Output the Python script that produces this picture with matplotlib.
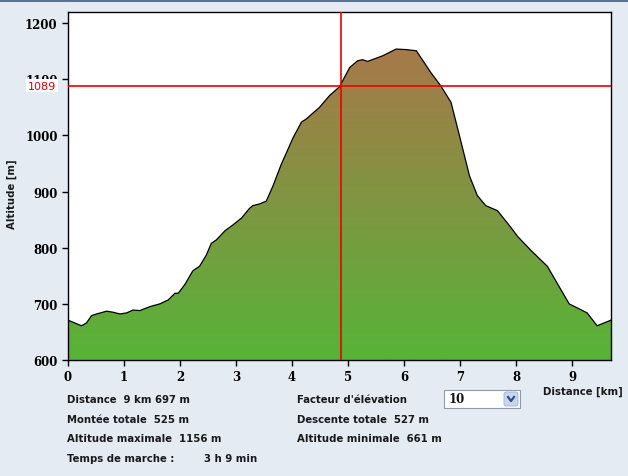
import numpy as np
import matplotlib
matplotlib.use('Agg')
import matplotlib.pyplot as plt
from matplotlib.patches import Rectangle, FancyBboxPatch
from matplotlib.lines import Line2D

# profile (km, m)
dist_km = [0.00, 0.12, 0.24, 0.33, 0.42, 0.51, 0.69, 0.81, 0.93, 1.05, 1.16, 1.28,
           1.46, 1.64, 1.79, 1.91, 1.97, 2.09, 2.23, 2.35, 2.47, 2.56, 2.65, 2.80,
           2.95, 3.10, 3.24, 3.30, 3.42, 3.54, 3.66, 3.81, 4.02, 4.17, 4.25, 4.49,
           4.67, 4.85, 5.03, 5.17, 5.26, 5.35, 5.62, 5.86, 6.04, 6.22, 6.48, 6.66,
           6.84, 6.99, 7.17, 7.31, 7.46, 7.67, 7.91, 8.03, 8.27, 8.56, 8.95, 9.27,
           9.45, 9.697]
alt_m = [671, 666, 661, 666, 679, 682, 687, 685, 682, 684, 689, 688,
         695, 700, 707, 719, 719, 735, 759, 767, 787, 808, 814, 830,
         841, 853, 870, 875, 878, 883, 910, 949, 996, 1024, 1029, 1050,
         1071, 1087, 1121, 1133, 1135, 1132, 1142, 1154, 1153, 1151, 1112, 1088,
         1059, 1000, 928, 893, 875, 866, 836, 820, 795, 767, 700, 684,
         661, 671]

x_ticks = [0, 1, 2, 3, 4, 5, 6, 7, 8, 9]
y_ticks = [600, 700, 800, 900, 1000, 1100, 1200]
cursor_km = 4.87
cursor_alt = 1089

left_info = ["Distance  9 km 697 m", "Montée totale  525 m",
             "Altitude maximale  1156 m", "Temps de marche :"]
right_info = ["Facteur d'élévation", "Descente totale  527 m",
              "Altitude minimale  661 m"]
walk_time = "3 h 9 min"
factor = "10"

W, H = 628, 477
bg = '#e4ebf3'
txt = '#1a1a1a'


def fx(px):
    return px / W


def fy(py):
    return 1 - py / H


fig = plt.figure(figsize=(W / 100, H / 100), dpi=100, facecolor=bg)
ax = fig.add_axes([fx(68), fy(361), fx(611) - fx(68), fy(13) - fy(361)])
ax.set_facecolor('white')

# gradient fill under profile
grad = np.linspace(0, 1, 256).reshape(-1, 1)
top_c = np.array([168, 120, 74]) / 255
bot_c = np.array([86, 180, 56]) / 255
img = bot_c + (top_c - bot_c) * grad[..., None]
img = img.reshape(256, 1, 3)
poly = ax.fill_between(dist_km, alt_m, 600, color='none', lw=0)
im = ax.imshow(img, extent=[0, 9.697, 600, 1160], origin='lower', aspect='auto', zorder=1)
path = poly.get_paths()[0]
im.set_clip_path(path, transform=ax.transData)
ax.plot(dist_km, alt_m, color='black', lw=0.9, zorder=2)

# cursor
ax.axvline(cursor_km, color='#ee0000', lw=1.2, zorder=3)
ax.axhline(cursor_alt, color='#ee0000', lw=1.2, zorder=3)

ax.set_xlim(0, 9.697)
ax.set_ylim(600, 1220)
ax.set_xticks(x_ticks)
ax.set_yticks(y_ticks)
for sp in ax.spines.values():
    sp.set_linewidth(1.0)
ax.tick_params(direction='out', length=4.5, width=1.0, pad=3)
for lab in ax.get_xticklabels() + ax.get_yticklabels():
    lab.set_fontfamily('DejaVu Serif')
    lab.set_fontweight('bold')
    lab.set_fontsize(8.5)

ax.text(-0.022, cursor_alt, str(cursor_alt), transform=ax.get_yaxis_transform(),
        ha='right', va='center', color='#e00000', fontsize=8, family='DejaVu Sans',
        bbox=dict(facecolor='white', edgecolor='none', pad=1.2), zorder=5, clip_on=False)

fig.text(fx(12), fy(194), "Altitude [m]", rotation=90, ha='center', va='center',
         fontsize=7.3, fontweight='bold', color=txt)
fig.text(fx(623), fy(392), "Distance [km]", ha='right', va='center',
         fontsize=7.3, fontweight='bold', color=txt)

# top band
fig.patches.append(Rectangle((0, fy(3)), 1, fy(0) - fy(3), transform=fig.transFigure,
                             facecolor='#5d7392', edgecolor='none'))

# info lines
rows = [400, 420, 439, 459]
for t, py in zip(left_info, rows):
    fig.text(fx(67), fy(py), t, ha='left', va='center', fontsize=7.3,
             fontweight='bold', color=txt)
fig.text(fx(204), fy(459), walk_time, ha='left', va='center', fontsize=7.3,
         fontweight='bold', color=txt)
for t, py in zip(right_info, rows):
    fig.text(fx(297), fy(py), t, ha='left', va='center', fontsize=7.3,
             fontweight='bold', color=txt)

# dropdown
fig.patches.append(Rectangle((fx(444), fy(409)), fx(520) - fx(444), fy(391) - fy(409),
                             transform=fig.transFigure, facecolor='white',
                             edgecolor='#8c9bb0', lw=0.8))
fig.patches.append(FancyBboxPatch((fx(504), fy(407)), fx(518) - fx(504), fy(393) - fy(407),
                                  boxstyle='round,pad=0,rounding_size=0.004',
                                  transform=fig.transFigure, facecolor='#c8d7ee',
                                  edgecolor='#9fb2cf', lw=0.6))
fig.lines.append(Line2D([fx(508), fx(511), fx(514)], [fy(398), fy(402), fy(398)],
                        transform=fig.transFigure, color='#2c4f8a', lw=1.6))
fig.text(fx(449), fy(400), factor, ha='left', va='center', fontsize=8.5,
         family='DejaVu Serif', fontweight='bold', color='#111111')

fig.savefig('out.png', dpi=100, facecolor=bg)
